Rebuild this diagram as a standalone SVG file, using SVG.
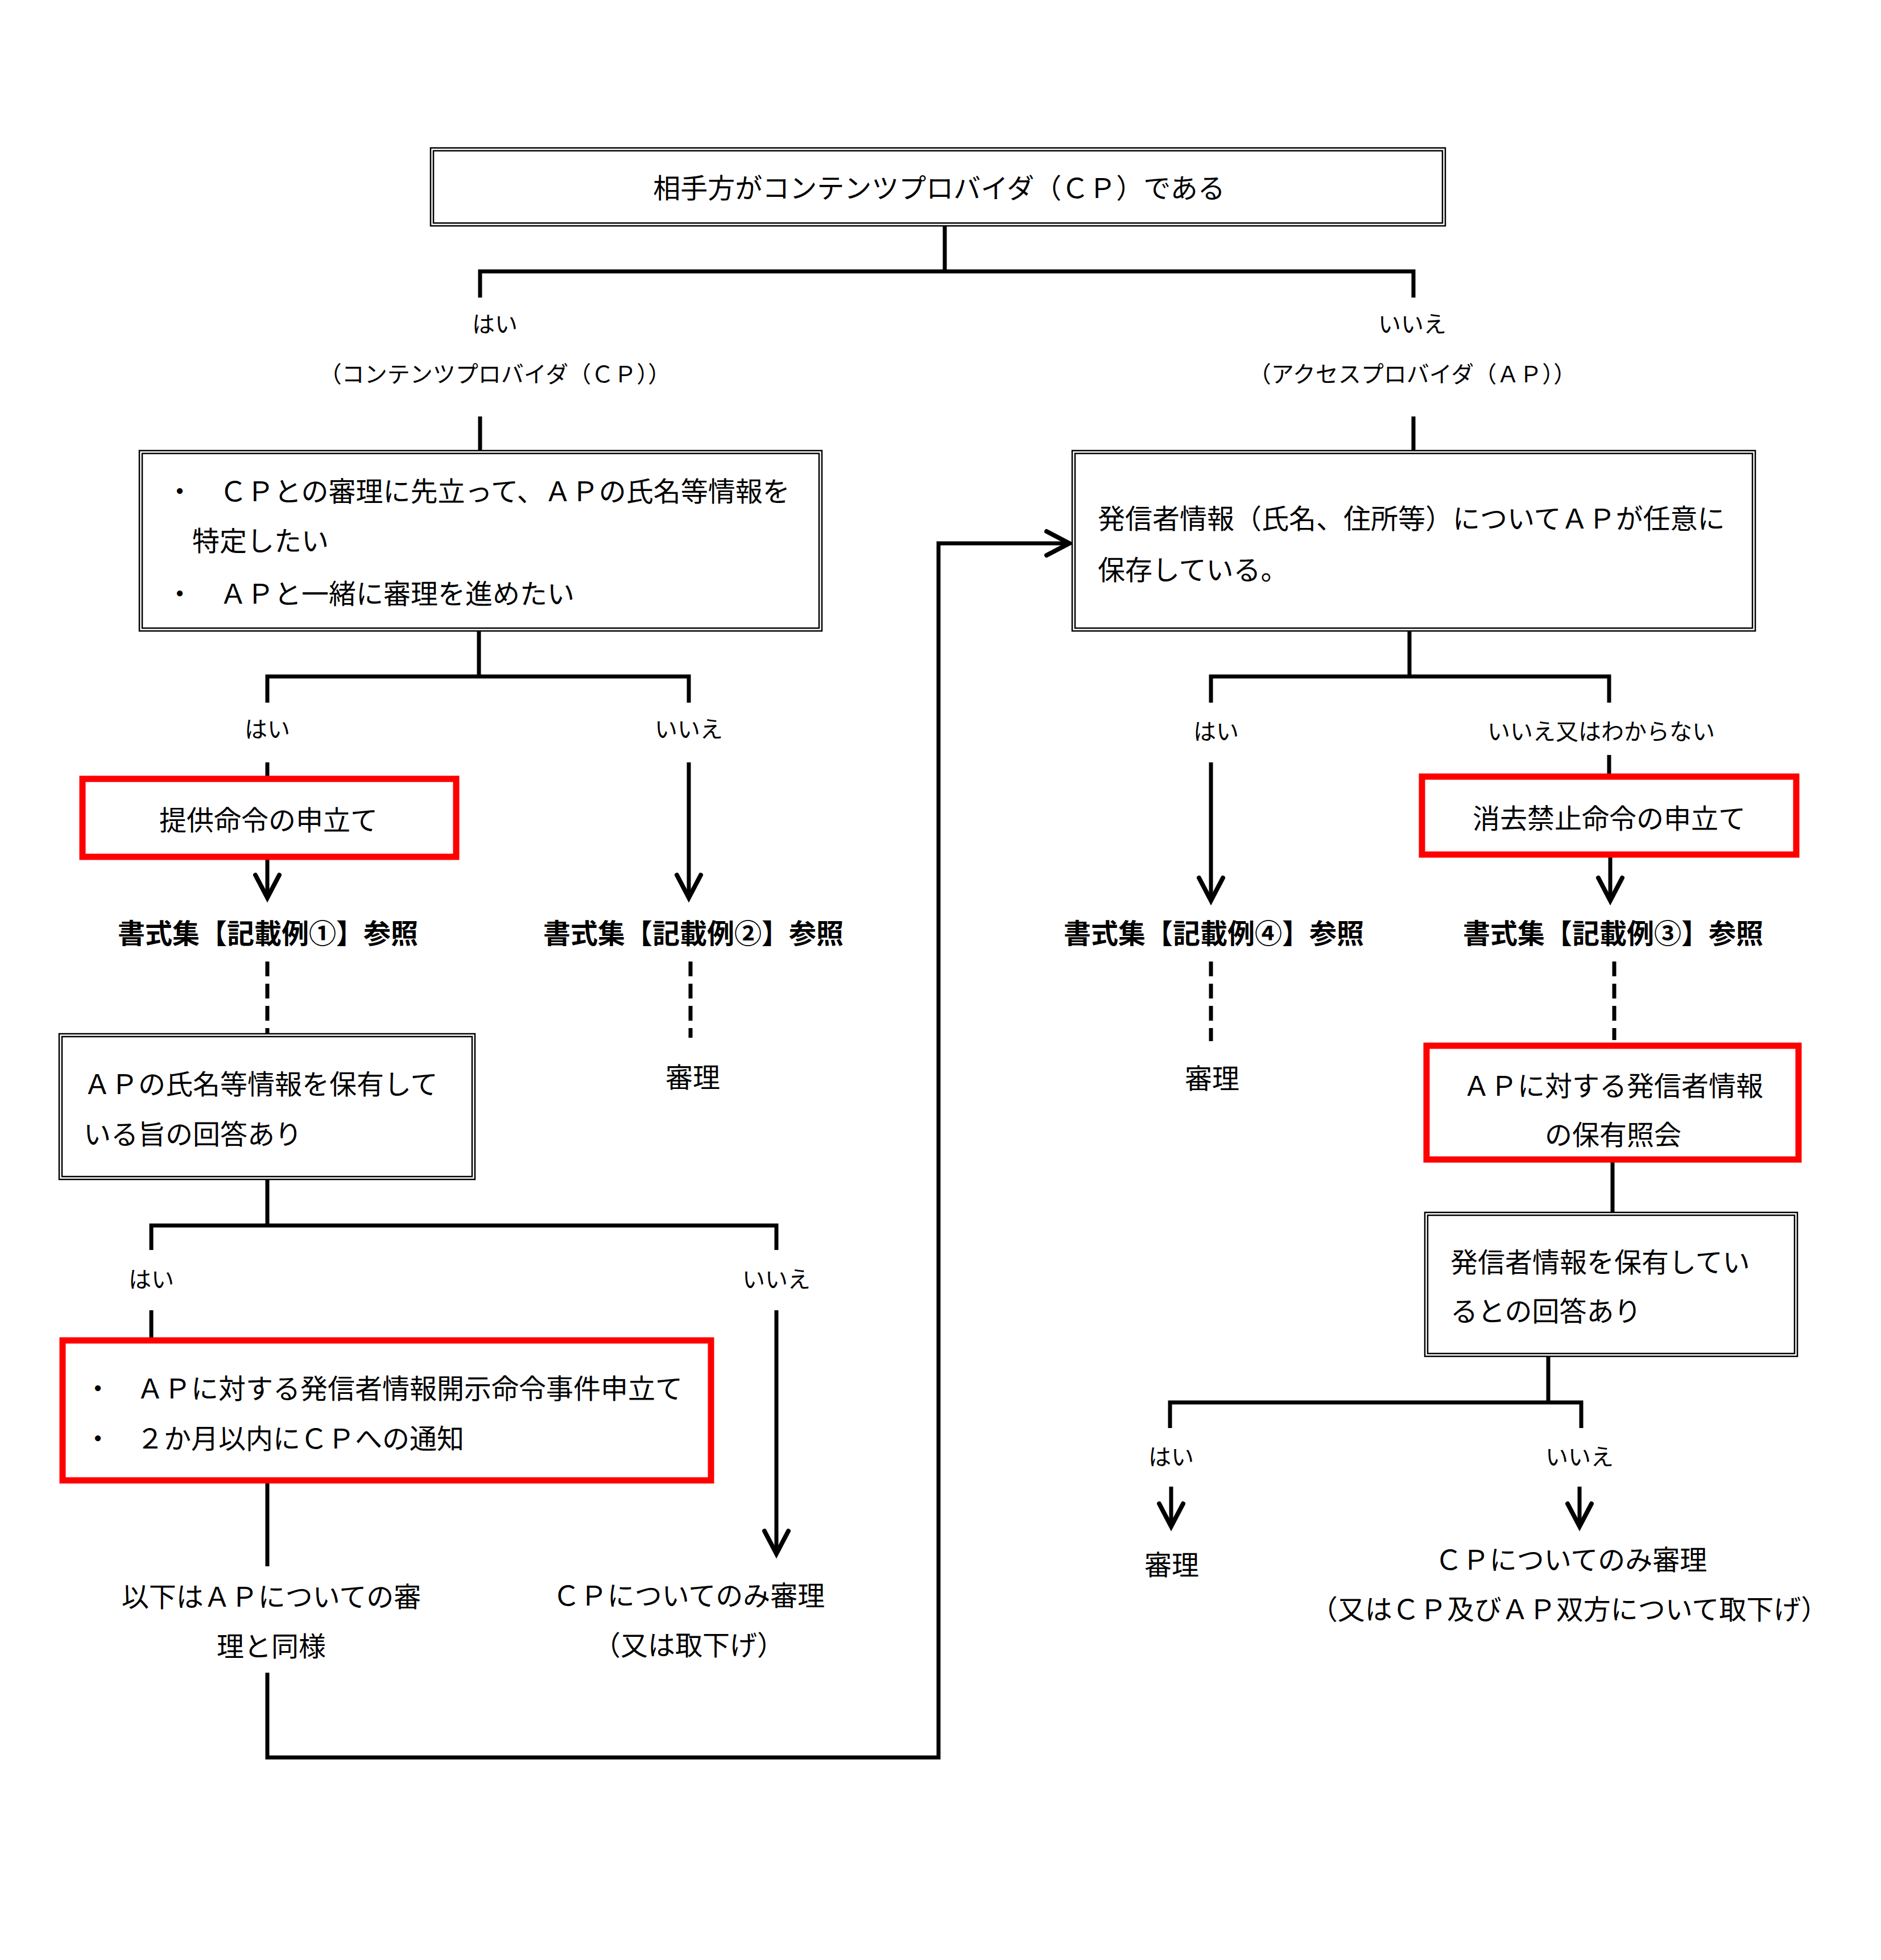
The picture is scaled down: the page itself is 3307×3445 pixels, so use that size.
<svg xmlns="http://www.w3.org/2000/svg" width="3307" height="3445" viewBox="0 0 3307 3445">
<style>
text{font-family:"Noto Sans CJK JP","Noto Sans CJK SC",sans-serif;fill:#000;dominant-baseline:central}
.t{font-size:48px}
.lb{font-size:40px}
.b{font-size:48px;font-weight:bold}
.m{text-anchor:middle}
.bo{fill:#fff;stroke:#000;stroke-width:2.5}
.bi{fill:none;stroke:#000;stroke-width:2.5}
.rb{fill:#fff;stroke:#f00;stroke-width:11}
.c{fill:none;stroke:#000;stroke-width:7}
.d{fill:none;stroke:#000;stroke-width:7;stroke-dasharray:26 13}
.a{fill:none;stroke:#000;stroke-width:7;marker-end:url(#arr)}
</style>
<defs>
<marker id="arr" markerUnits="userSpaceOnUse" markerWidth="64" markerHeight="64" refX="48" refY="30" orient="auto">
<path d="M8 9 L48 30 L8 51" fill="none" stroke="#000" stroke-width="8" stroke-linecap="round" stroke-linejoin="miter"/>
</marker>
</defs>
<rect width="3307" height="3445" fill="#fff"/>

<g id="connectors">
<path class="c" d="M1661 398 V477 M844 523 V477 H2485 V523"/>
<path class="c" d="M844 732 V792 M2485 732 V792"/>
<path class="c" d="M842 1110 V1189 M470 1235 V1189 H1211 V1235"/>
<path class="c" d="M470 1340 V1364"/>
<path class="a" d="M1211 1340 V1578"/>
<path class="a" d="M470 1511 V1578"/>
<path class="d" d="M470 1690 V1816"/>
<path class="d" d="M1214 1690 V1824"/>
<path class="c" d="M470 2074 V2154 M266 2197 V2154 H1365 V2197"/>
<path class="c" d="M266 2303 V2351"/>
<path class="a" d="M1365 2303 V2731"/>
<path class="c" d="M470 2607 V2753"/>
<path class="a" d="M470 2940 V3089 H1650 V955 H1880"/>
<path class="c" d="M2478 1110 V1189 M2129 1235 V1189 H2829 V1235"/>
<path class="a" d="M2129 1340 V1583"/>
<path class="c" d="M2829 1327 V1360"/>
<path class="a" d="M2831 1507 V1583"/>
<path class="d" d="M2129 1690 V1830"/>
<path class="d" d="M2838 1690 V1828"/>
<path class="c" d="M2835 2043 V2131"/>
<path class="c" d="M2722 2384 V2465 M2057 2510 V2465 H2780 V2510"/>
<path class="a" d="M2059 2613 V2683"/>
<path class="a" d="M2777 2613 V2683"/>
</g>

<g id="n-top">
<rect class="bo" x="757" y="260" width="1784" height="137"/>
<rect class="bi" x="762" y="265" width="1774" height="127"/>
<text class="t m" x="1651" y="327">相手方がコンテンツプロバイダ（ＣＰ）である</text>
</g>

<g id="l-yes1">
<text class="lb m" x="870" y="567">はい</text>
<text class="lb m" x="870" y="655">（コンテンツプロバイダ（ＣＰ））</text>
</g>
<g id="l-no1">
<text class="lb m" x="2483" y="567">いいえ</text>
<text class="lb m" x="2483" y="655">（アクセスプロバイダ（ＡＰ））</text>
</g>

<g id="n-cp">
<rect class="bo" x="245" y="792" width="1200" height="317"/>
<rect class="bi" x="250" y="797" width="1190" height="307"/>
<text class="t" x="292" y="860">・</text>
<text class="t" x="386" y="860">ＣＰとの審理に先立って、ＡＰの氏名等情報を</text>
<text class="t" x="338" y="947">特定したい</text>
<text class="t" x="292" y="1040">・</text>
<text class="t" x="386" y="1040">ＡＰと一緒に審理を進めたい</text>
</g>

<g id="n-ap">
<rect class="bo" x="1885" y="792" width="1201" height="317"/>
<rect class="bi" x="1890" y="797" width="1191" height="307"/>
<text class="t" x="1930" y="908">発信者情報（氏名、住所等）についてＡＰが任意に</text>
<text class="t" x="1930" y="998">保存している。</text>
</g>

<g id="l-cp-yes"><text class="lb m" x="470" y="1279">はい</text></g>
<g id="l-cp-no"><text class="lb m" x="1211" y="1279">いいえ</text></g>
<g id="l-ap-yes"><text class="lb m" x="2138" y="1283">はい</text></g>
<g id="l-ap-no"><text class="lb m" x="2815" y="1283">いいえ又はわからない</text></g>

<g id="n-teikyo">
<rect class="rb" x="145" y="1369" width="657" height="137"/>
<text class="t m" x="472" y="1438">提供命令の申立て</text>
</g>

<g id="n-shokyo">
<rect class="rb" x="2500" y="1365" width="658" height="137"/>
<text class="t m" x="2829" y="1435">消去禁止命令の申立て</text>
</g>

<g id="n-ref1"><text class="b m" x="471" y="1637">書式集【記載例①】参照</text></g>
<g id="n-ref2"><text class="b m" x="1219" y="1637">書式集【記載例②】参照</text></g>
<g id="n-ref4"><text class="b m" x="2134" y="1637">書式集【記載例④】参照</text></g>
<g id="n-ref3"><text class="b m" x="2836" y="1637">書式集【記載例③】参照</text></g>

<g id="n-shinri2"><text class="t m" x="1218" y="1890">審理</text></g>
<g id="n-shinri4"><text class="t m" x="2131" y="1892">審理</text></g>

<g id="n-kaito1">
<rect class="bo" x="104" y="1817" width="731" height="256"/>
<rect class="bi" x="109" y="1822" width="721" height="246"/>
<text class="t" x="147" y="1902">ＡＰの氏名等情報を保有して</text>
<text class="t" x="147" y="1990">いる旨の回答あり</text>
</g>

<g id="n-shokai">
<rect class="rb" x="2508" y="1838" width="654" height="200"/>
<text class="t m" x="2836" y="1905">ＡＰに対する発信者情報</text>
<text class="t m" x="2836" y="1991">の保有照会</text>
</g>

<g id="n-kaito2">
<rect class="bo" x="2505" y="2131" width="655" height="253"/>
<rect class="bi" x="2510" y="2136" width="645" height="243"/>
<text class="t" x="2550" y="2215">発信者情報を保有してい</text>
<text class="t" x="2550" y="2301">るとの回答あり</text>
</g>

<g id="l-k1-yes"><text class="lb m" x="266" y="2246">はい</text></g>
<g id="l-k1-no"><text class="lb m" x="1365" y="2246">いいえ</text></g>

<g id="n-kaiji">
<rect class="rb" x="110" y="2356" width="1140" height="246"/>
<text class="t" x="148" y="2437">・</text>
<text class="t" x="240" y="2437">ＡＰに対する発信者情報開示命令事件申立て</text>
<text class="t" x="148" y="2525">・</text>
<text class="t" x="240" y="2525">２か月以内にＣＰへの通知</text>
</g>

<g id="n-ika">
<text class="t m" x="477" y="2803">以下はＡＰについての審</text>
<text class="t m" x="477" y="2890">理と同様</text>
</g>

<g id="n-cponly1">
<text class="t m" x="1211" y="2801">ＣＰについてのみ審理</text>
<text class="t m" x="1211" y="2888">（又は取下げ）</text>
</g>

<g id="l-k2-yes"><text class="lb m" x="2059" y="2558">はい</text></g>
<g id="l-k2-no"><text class="lb m" x="2777" y="2558">いいえ</text></g>

<g id="n-shinri5"><text class="t m" x="2060" y="2747">審理</text></g>
<g id="n-cponly2">
<text class="t m" x="2762" y="2738">ＣＰについてのみ審理</text>
<text class="t m" x="2759" y="2825">（又はＣＰ及びＡＰ双方について取下げ）</text>
</g>
</svg>
